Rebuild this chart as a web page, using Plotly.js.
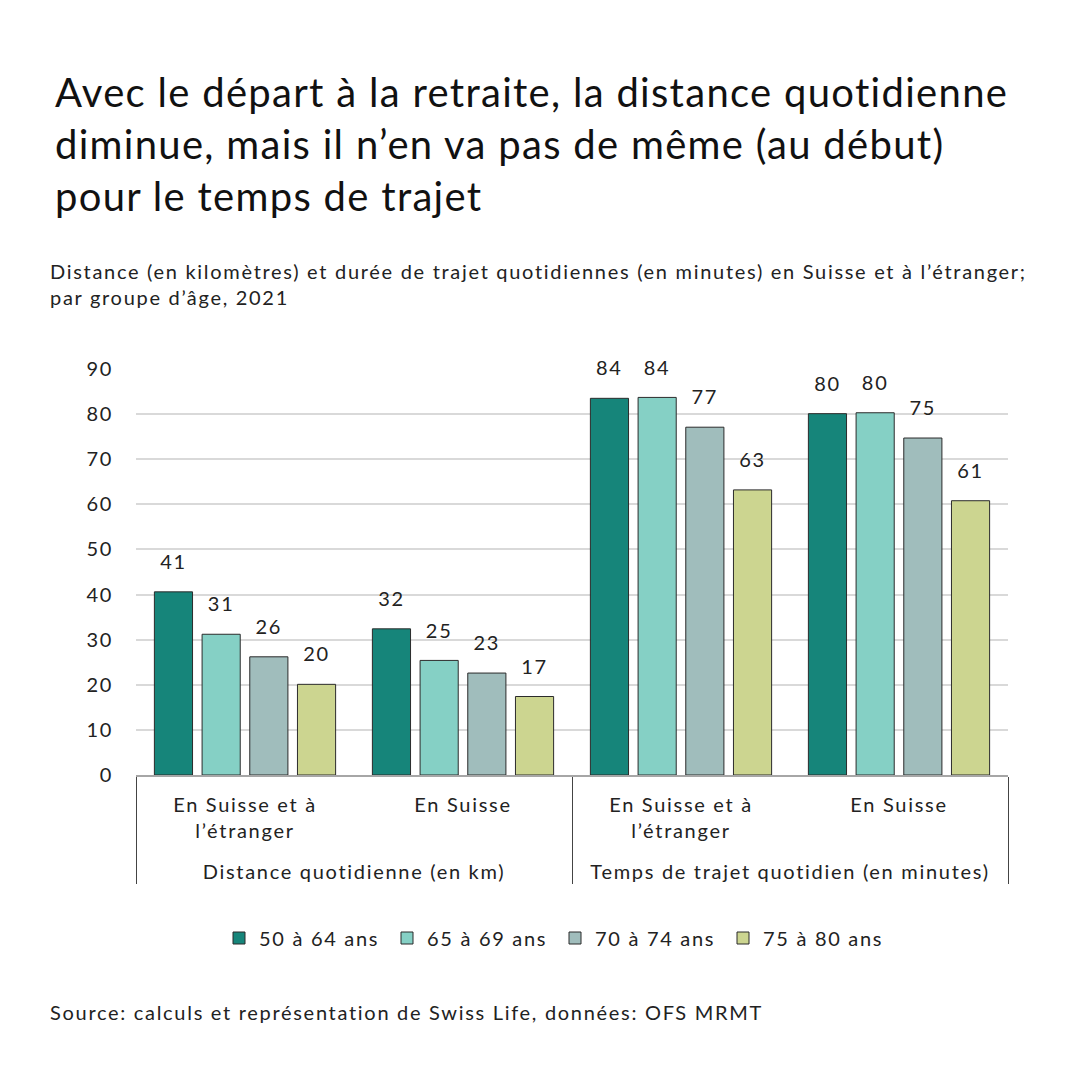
<!DOCTYPE html>
<html>
<head>
<meta charset="utf-8">
<script src="https://cdn.plot.ly/plotly-3.0.1.min.js"></script>
<style>
  html, body { margin: 0; padding: 0; background: #ffffff; }
  #plot { width: 1080px; height: 1080px; }
  /* the original face is wider than Lato, open it up a bit */
  #plot text { letter-spacing: 1.7px; }
  #plot text.gtitle { letter-spacing: 1.3px; }
</style>
</head>
<body>
<div id="plot"></div>
<script>
const FONT = 'Lato, "Open Sans", sans-serif';

// data
const outerGroups = ["Distance quotidienne (en km)", "Distance quotidienne (en km)",
  "Temps de trajet quotidien (en minutes)", "Temps de trajet quotidien (en minutes)"];
const innerGroups = ["En Suisse et à<br>l’étranger", "En Suisse",
  "En Suisse et à<br>l’étranger", "En Suisse"];

const seriesNames = ["50 à 64 ans", "65 à 69 ans", "70 à 74 ans", "75 à 80 ans"];
const age50to64 = [40.6, 32.4, 83.5, 80.1];
const age65to69 = [31.2, 25.4, 83.7, 80.3];
const age70to74 = [26.2, 22.6, 77.1, 74.7];
const age75to80 = [20.1, 17.4, 63.2, 60.8];
const seriesValues = [age50to64, age65to69, age70to74, age75to80];
const seriesColors = ["#16857a", "#85d0c5", "#a0bdbc", "#ccd590"];

const yTicks = [0, 10, 20, 30, 40, 50, 60, 70, 80, 90];

// blank first line pushes the outer level further below the inner labels
const outerLabels = outerGroups.map((g) => "\u00a0<br>" + g);

const traces = seriesValues.map((vals, i) => ({
  type: "bar",
  name: seriesNames[i],
  x: [outerLabels, innerGroups],
  y: vals,
  marker: { color: seriesColors[i], line: { color: "#2b2b2b", width: 1 } },
  // small blank second line = gap between bar top and its value
  texttemplate: "<span style='font-size:20px'>%{y:.0f}</span><br>\u00a0",
  textposition: "outside",
  constraintext: "none",
  cliponaxis: false,
  textfont: { family: FONT, size: 13, color: "#222222" },
  hoverinfo: "skip",
}));

const layout = {
  width: 1080,
  height: 1080,
  paper_bgcolor: "#ffffff",
  plot_bgcolor: "#ffffff",
  font: { family: FONT, color: "#222222", size: 20 },
  title: {
    text: "Avec le départ à la retraite, la distance quotidienne<br>diminue, mais il n’en va pas de même (au début)<br>pour le temps de trajet",
    font: { family: FONT, size: 40, color: "#111111" },
    x: 55 / 1080,
    xref: "container",
    xanchor: "left",
    y: 1 - 107 / 1080,
    yref: "container",
    yanchor: "top",
  },
  margin: { l: 136, r: 72, t: 369, b: 305 },
  barmode: "group",
  bargap: 0.125,
  bargroupgap: 0.2,
  showlegend: true,
  legend: {
    orientation: "h",
    xref: "container",
    yref: "container",
    x: 555 / 1080,
    xanchor: "center",
    y: 1 - 938 / 1080,
    yanchor: "middle",
    entrywidth: 123,
    entrywidthmode: "pixels",
    font: { family: FONT, size: 20, color: "#222222" },
    traceorder: "normal",
  },
  xaxis: {
    type: "multicategory",
    showline: true,
    linecolor: "#a6a6a6",
    linewidth: 2,
    showdividers: true,
    dividercolor: "#444444",
    dividerwidth: 1,
    ticks: "",
    ticklabelstandoff: 11,
    tickfont: { family: FONT, size: 20, color: "#222222" },
    showgrid: false,
  },
  yaxis: {
    range: [0, 90],
    tickvals: yTicks,
    ticktext: yTicks.map(String),
    showgrid: true,
    gridcolor: "#d9d9d9",
    gridwidth: 2,
    zeroline: false,
    showline: false,
    ticks: "",
    ticklabelstandoff: 22,
    tickfont: { family: FONT, size: 20, color: "#222222" },
  },
  annotations: [
    {
      text: "Distance (en kilomètres) et durée de trajet quotidiennes (en minutes) en Suisse et à l’étranger;<br>par groupe d’âge, 2021",
      xref: "paper", yref: "paper",
      x: (48 - 136) / 872, xanchor: "left",
      y: (1080 - 257 - 305) / 406, yanchor: "top",
      align: "left",
      showarrow: false,
      font: { family: FONT, size: 20, color: "#222222" },
    },
    {
      text: "Source: calculs et représentation de Swiss Life, données: OFS MRMT",
      xref: "paper", yref: "paper",
      x: (48 - 136) / 872, xanchor: "left",
      y: (1080 - 1012 - 305) / 406, yanchor: "middle",
      align: "left",
      showarrow: false,
      font: { family: FONT, size: 20, color: "#222222" },
    },
  ],
};

Plotly.newPlot("plot", traces, layout, { displayModeBar: false, staticPlot: true });
</script>
</body>
</html>
